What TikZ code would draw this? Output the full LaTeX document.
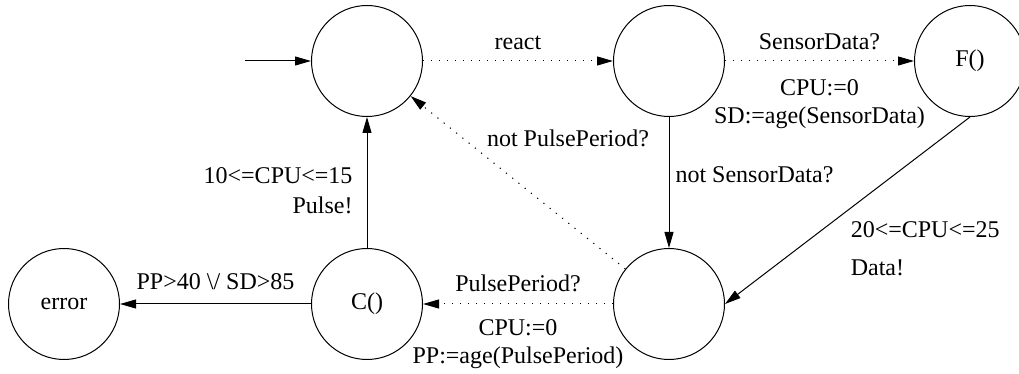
\documentclass[tikz,border=0pt]{standalone}
\usepackage{fontspec}
\setmainfont{Liberation Serif}
\usetikzlibrary{arrows.meta,positioning}

\begin{document}
\begin{tikzpicture}[
    x=0.5pt, y=-0.5pt,
    state/.style={draw, circle, minimum size=55.5pt, inner sep=0pt, line width=0.5pt, font=\fontsize{12}{14}\selectfont},
    lbl/.style={inner sep=0pt, font=\fontsize{12}{14}\selectfont},
    arrow/.style={-{Triangle[length=8pt, width=4.5pt]}, line width=0.5pt},
    dotarrow/.style={arrow, dash pattern=on 0.6pt off 3.4pt}
]
\useasboundingbox (0,0) rectangle (1019,374);

% States
\node[state] (idle) at (367,61) {};
\node[state] (sense) at (669,61) {};
\node[state] (filter) at (970,61) {F()};
\node[state] (wait) at (669,304) {};
\node[state] (control) at (367,304) {C()};
\node[state] (error) at (64,304) {error};
\coordinate (init) at (245,61);

% Transitions
\draw[arrow] (init) -- (idle);
\draw[dotarrow] (idle) -- node[lbl, above=5.5pt] {react} (sense);
\draw[dotarrow] (sense) -- node[lbl, above=5.5pt] {SensorData?}
    node[lbl, below=9pt, align=center] {CPU:=0\\SD:=age(SensorData)} (filter);
\draw[arrow] (sense) -- node[lbl, anchor=base west, xshift=3pt] {not SensorData?} (wait);
\draw[arrow] (filter.south) -- node[lbl, anchor=north west, xshift=1.4pt, yshift=-5.3pt, align=left] {20<=CPU<=25\\[5pt]Data!} (wait.east);
\draw[dotarrow] (wait) -- node[lbl, anchor=base, xshift=25pt, yshift=17.75pt] {not PulsePeriod?} (idle);
\draw[dotarrow] (wait) -- node[lbl, above=6pt] {PulsePeriod?}
    node[lbl, below=7.5pt, align=center] {CPU:=0\\PP:=age(PulsePeriod)} (control);
\draw[arrow] (control) -- node[lbl, anchor=north east, xshift=-7pt, yshift=7.75pt, align=right] {10<=CPU<=15\\[1pt]Pulse!} (idle);
\draw[arrow] (control) -- node[lbl, above=7pt] {PP>40 \textbackslash/ SD>85} (error);
\end{tikzpicture}
\end{document}
